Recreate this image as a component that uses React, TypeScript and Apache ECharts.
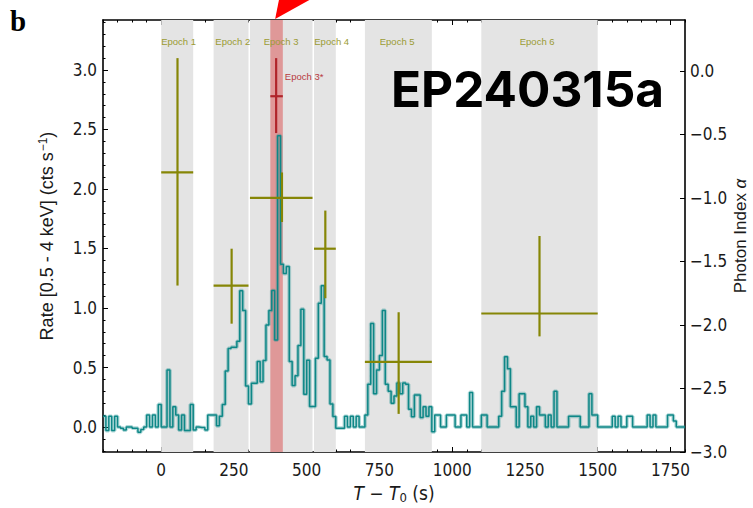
import React, { useEffect, useRef } from 'react';
import * as echarts from 'echarts';

// Light curve: 10 s bins starting at T0 - 200 s, rate in cts/s (0.5 - 4 keV)
const binStart = -200;
const binWidth = 10;
const rates = [
  0.09, -0.03, 0.09, -0.03, 0.09, 0.0, -0.01, -0.025, 0.0, 0.0,
  -0.01, -0.01, -0.045, -0.02, 0.0, 0.10, 0.0, 0.10, 0.0, 0.19,
  0.0, 0.0, 0.48, 0.0, 0.17, 0.10, -0.025, 0.10, -0.03, -0.03,
  0.19, -0.025, 0.0, -0.005, -0.005, -0.025, 0.10, 0.10, 0.10, 0.01,
  0.09, 0.19, 0.47, 0.66, 0.67, 0.67, 0.72, 1.145, 0.98, 0.345,
  0.194, 0.368, 0.368, 0.55, 0.38, 0.558, 0.858, 0.978, 1.146, 0.732,
  2.448, 1.368, 1.29, 1.348, 0.55, 0.348, 0.43, 0.684, 0.99, 0.276,
  0.56, 0.172, 0.172, 0.578, 1.04, 1.186, 0.592, 0.564, 0.194, 0.088,
  -0.01, -0.01, -0.01, 0.09, 0.0, 0.09, 0.0, 0.09, 0.0, 0.0,
  0.10, 0.36, 0.87, 0.28, 0.48, 0.60, 0.98, 0.36, 0.30, 0.20,
  0.26, 0.37, 0.28, 0.37, 0.36, 0.15, 0.087, 0.27, 0.27, 0.08,
  0.17, 0.09, 0.17, -0.04, 0.10, 0.10, 0.0, 0.0, 0.10, 0.10,
  0.10, 0.0, 0.0, 0.10, 0.10, 0.0, 0.29, 0.0, 0.0, 0.0,
  0.10, 0.10, 0.0, 0.0, 0.0, 0.0, 0.09, 0.30, 0.59, 0.49,
  0.17, 0.17, 0.0, 0.28, 0.28, 0.17, 0.0, 0.09, 0.0, 0.17,
  0.10, 0.10, 0.0, 0.10, 0.0, 0.30, 0.0, 0.0, 0.0, 0.0,
  0.09, 0.09, 0.09, 0.09, 0.0, 0.0, 0.0, 0.28, 0.10, 0.10,
  0.0, 0.0, 0.0, 0.0, 0.0, 0.09, 0.0, 0.09, 0.0, 0.0,
  0.09, 0.09, 0.0, 0.0, 0.0, 0.0, 0.0, 0.10, 0.0, 0.10,
  0.0, 0.0, 0.0, 0.0, 0.10, 0.10, 0.05, 0.0, 0.0, 0.0,
];

// Spectral epochs (s) and fitted photon index with its range
const epochNames = ['Epoch 1', 'Epoch 2', 'Epoch 3', 'Epoch 4', 'Epoch 5', 'Epoch 6'];
const epochStart = [0, 180, 305, 525, 700, 1100];
const epochEnd = [110, 300, 520, 600, 930, 1500];
const epochLabelAt = [60, 246, 412, 586, 811, 1292];
const indexTime = [56, 242, 415, 564, 816, 1300];
const indexValue = [-0.8, -1.69, -1.0, -1.4, -2.29, -1.91];
const indexLow = [-1.69, -1.99, -1.19, -1.79, -2.7, -2.09];
const indexHigh = [0.1, -1.4, -0.8, -1.1, -1.9, -1.3];

// Sub-interval of epoch 3
const subName = 'Epoch 3*';
const subStart = 375;
const subEnd = 418;
const subTime = 395;
const subValue = -0.2;
const subLow = -0.49;
const subHigh = 0.1;

// Axis ticks
const timeTicks = [0, 250, 500, 750, 1000, 1250, 1500, 1750];
const rateTicks = [0, 0.5, 1.0, 1.5, 2.0, 2.5, 3.0];
const indexTicks = [-3.0, -2.5, -2.0, -1.5, -1.0, -0.5, 0.0];

const steps = (a: number, b: number, d: number) => {
  const out: number[] = [];
  for (let i = 0; a + i * d <= b + 1e-9; i++) out.push(Math.round((a + i * d) * 1000) / 1000);
  return out;
};
const timeMinor = steps(-200, 1800, 50);
const rateMinor = steps(-0.2, 3.4, 0.1);

const FONT = '"Liberation Sans", Arial, Helvetica, sans-serif';
const NARROW = '"Liberation Sans Narrow", "Arial Narrow", "DejaVu Sans Condensed", "Liberation Sans", sans-serif';
const TEXT = '#1a1a1a';

export default function App() {
  const ref = useRef<HTMLDivElement>(null);

  useEffect(() => {
    const el = ref.current;
    if (!el) return;
    const chart = echarts.init(el, null, { renderer: 'svg' });

    const lcData = rates.map((v, i) => [binStart + i * binWidth, v]);
    lcData.push([binStart + rates.length * binWidth, rates[rates.length - 1]]);

    const cross = (color: string, lw: number, label?: string, labelColor?: string) =>
      (params: any, api: any) => {
        const t = api.value(0);
        const s = api.value(1);
        const e = api.value(2);
        const c = api.value(3);
        const a = api.coord([s, c]);
        const b = api.coord([e, c]);
        const p = api.coord([t, api.value(4)]);
        const q = api.coord([t, api.value(5)]);
        const children: any[] = [
          { type: 'line', shape: { x1: a[0], y1: a[1], x2: b[0], y2: b[1] }, style: { stroke: color, lineWidth: lw } },
          { type: 'line', shape: { x1: p[0], y1: p[1], x2: q[0], y2: q[1] }, style: { stroke: color, lineWidth: lw } },
        ];
        if (label) {
          children.push({
            type: 'text',
            style: {
              text: label, x: b[0] + 2, y: q[1] + 18,
              fill: labelColor, fontSize: 9.5, fontFamily: FONT,
              align: 'left', verticalAlign: 'middle', textAlign: 'left', textVerticalAlign: 'middle',
            },
          });
        }
        return { type: 'group', children };
      };

    const baseX = {
      type: 'value', gridIndex: 0, min: -200, max: 1800,
      splitLine: { show: false },
    };
    const baseRate = {
      type: 'value', gridIndex: 0, min: -0.21, max: 3.42,
      splitLine: { show: false },
    };

    const option: any = {
      animation: false,
      textStyle: { fontFamily: FONT },
      grid: { left: 103, right: 68, top: 20, bottom: 56, containLabel: false, outerBoundsMode: 'none' },
      xAxis: [
        {
          ...baseX, position: 'bottom',
          axisLine: { show: true, onZero: false, lineStyle: { color: '#000', width: 1.6 } },
          axisTick: { show: true, inside: true, length: 5, customValues: timeTicks, lineStyle: { color: '#000', width: 1 } },
          axisLabel: {
            show: true, customValues: timeTicks, margin: 9, fontSize: 17, color: TEXT, fontFamily: NARROW,
            formatter: (v: number) => String(v),
          },
          name: '{i|T} − {i|T}{sub|0} (s)',
          nameLocation: 'middle', nameGap: 30, nameMoveOverlap: false,
          nameTextStyle: {
            fontSize: 19, color: TEXT, fontFamily: NARROW,
            rich: {
              i: { fontStyle: 'italic', fontSize: 19, color: TEXT, fontFamily: NARROW },
              sub: { fontSize: 13, color: TEXT, fontFamily: NARROW, verticalAlign: 'bottom', padding: [9, 0, 0, 0] },
            },
          },
        },
        {
          ...baseX, position: 'bottom',
          axisLine: { show: false, onZero: false },
          axisTick: { show: true, inside: true, length: 2.5, customValues: timeMinor, lineStyle: { color: '#000', width: 1 } },
          axisLabel: { show: false },
        },
        {
          ...baseX, position: 'top',
          axisLine: { show: true, onZero: false, lineStyle: { color: '#000', width: 1.6 } },
          axisTick: { show: true, inside: true, length: 5, customValues: timeTicks, lineStyle: { color: '#000', width: 1 } },
          axisLabel: { show: false },
        },
        {
          ...baseX, position: 'top',
          axisLine: { show: false, onZero: false },
          axisTick: { show: true, inside: true, length: 2.5, customValues: timeMinor, lineStyle: { color: '#000', width: 1 } },
          axisLabel: { show: false },
        },
      ],
      yAxis: [
        {
          ...baseRate, position: 'left',
          axisLine: { show: true, onZero: false, lineStyle: { color: '#000', width: 1.6 } },
          axisTick: { show: true, inside: true, length: 5, customValues: rateTicks, lineStyle: { color: '#000', width: 1 } },
          axisLabel: {
            show: true, customValues: rateTicks, margin: 6, fontSize: 17, color: TEXT, fontFamily: NARROW,
            formatter: (v: number) => v.toFixed(1),
          },
          name: '{r|Rate [0.5 - 4 keV] (cts s}{sup|−1}{r|)}',
          nameLocation: 'middle', nameGap: 46, nameRotate: 90, nameMoveOverlap: false,
          nameTextStyle: {
            fontSize: 18, color: TEXT, fontFamily: FONT,
            rich: {
              r: { fontSize: 18, color: TEXT, fontFamily: FONT },
              sup: { fontSize: 12, color: TEXT, fontFamily: FONT, verticalAlign: 'top', padding: [0, 0, 8, 1] },
            },
          },
        },
        {
          type: 'value', gridIndex: 0, position: 'right', min: -3, max: 0.4,
          splitLine: { show: false },
          axisLine: { show: true, onZero: false, lineStyle: { color: '#000', width: 1.6 } },
          axisTick: { show: true, inside: true, length: 5, customValues: indexTicks, lineStyle: { color: '#000', width: 1 } },
          axisLabel: {
            show: true, customValues: indexTicks, margin: 5, fontSize: 17, color: TEXT, fontFamily: NARROW,
            formatter: (v: number) => (v < 0 ? '−' : '') + Math.abs(v).toFixed(1),
          },
          name: '{r|Photon Index }{i|α}',
          nameLocation: 'middle', nameGap: 47, nameRotate: 90, nameMoveOverlap: false,
          nameTextStyle: {
            fontSize: 17, lineHeight: 17, color: TEXT, fontFamily: FONT,
            rich: {
              r: { fontSize: 17, lineHeight: 17, color: TEXT, fontFamily: FONT },
              i: { fontSize: 17, lineHeight: 17, color: TEXT, fontFamily: FONT, fontStyle: 'italic' },
            },
          },
        },
        {
          ...baseRate, position: 'left',
          axisLine: { show: false, onZero: false },
          axisTick: { show: true, inside: true, length: 2.5, customValues: rateMinor, lineStyle: { color: '#000', width: 1 } },
          axisLabel: { show: false },
        },
      ],
      series: [
        {
          name: 'epochs', type: 'line', xAxisIndex: 0, yAxisIndex: 0, data: [], silent: true, z: 1,
          markArea: {
            silent: true,
            itemStyle: { color: '#e4e4e4' },
            data: epochStart.map((s, i) => [{ xAxis: s }, { xAxis: epochEnd[i] }]),
          },
        },
        {
          name: 'sub', type: 'line', xAxisIndex: 0, yAxisIndex: 0, data: [], silent: true, z: 2,
          markArea: {
            silent: true,
            itemStyle: { color: '#df9898' },
            data: [[{ xAxis: subStart }, { xAxis: subEnd }]],
          },
        },
        {
          name: 'rate-halo', type: 'line', step: 'end', xAxisIndex: 0, yAxisIndex: 0, z: 3,
          data: lcData, showSymbol: false, silent: true,
          lineStyle: { color: 'rgba(20,140,140,0.33)', width: 3.8 },
        },
        {
          name: 'rate', type: 'line', step: 'end', xAxisIndex: 0, yAxisIndex: 0, z: 4,
          data: lcData, showSymbol: false, silent: true,
          lineStyle: { color: '#0e8787', width: 1.5 },
        },
        {
          name: 'index', type: 'custom', xAxisIndex: 0, yAxisIndex: 1, z: 6, silent: true,
          data: indexTime.map((t, i) => [t, epochStart[i], epochEnd[i], indexValue[i], indexLow[i], indexHigh[i]]),
          encode: { x: [0, 1, 2], y: [3, 4, 5] },
          renderItem: cross('#868606', 2.2),
        },
        {
          name: 'index-sub', type: 'custom', xAxisIndex: 0, yAxisIndex: 1, z: 7, silent: true,
          data: [[subTime, subStart, subEnd, subValue, subLow, subHigh]],
          encode: { x: [0, 1, 2], y: [3, 4, 5] },
          renderItem: cross('#b0242a', 2.2, subName, '#b83a3e'),
        },
        {
          name: 'epoch-labels', type: 'custom', xAxisIndex: 0, yAxisIndex: 0, z: 8, silent: true,
          data: epochLabelAt.map((t) => [t, 0]),
          encode: { x: 0, y: 1 },
          renderItem: (params: any, api: any) => {
            const x = api.coord([api.value(0), 0])[0];
            return {
              type: 'text',
              style: {
                text: epochNames[params.dataIndex], x, y: params.coordSys.y + 21,
                fill: '#9b9b33', fontSize: 9.5, fontFamily: FONT,
                align: 'center', verticalAlign: 'middle', textAlign: 'center', textVerticalAlign: 'middle',
              },
            };
          },
        },
      ],
      graphic: [
        {
          type: 'text', id: 'panel', left: 10, top: 6, z: 20,
          style: { text: 'b', fontSize: 29, fontWeight: 'bold', fontFamily: '"Liberation Serif", "Times New Roman", serif', fill: '#000' },
        },
        {
          type: 'text', id: 'source', x: 391, y: 88.5, z: 20,
          style: {
            text: 'EP240315a', fontSize: 49.5, fontWeight: 'bold', fontFamily: 'Inter, "Open Sans", sans-serif', fill: '#000',
            align: 'left', verticalAlign: 'middle', textAlign: 'left', textVerticalAlign: 'middle',
          },
        },
      ],
    };

    chart.setOption(option);

    // Red arrow pointing at the Epoch 3* interval from above the frame
    const tip = chart.convertToPixel({ xAxisIndex: 0 }, subTime) as number;
    chart.setOption({
      graphic: [
        {
          type: 'polygon', id: 'arrow', z: 30,
          shape: { points: [[tip - 1, 19], [tip + 3, -1], [tip + 35, -1]] },
          style: { fill: '#ff0000' },
        },
      ],
    });

    return () => chart.dispose();
  }, []);

  return <div ref={ref} style={{ position: 'absolute', left: 0, top: 0, width: 753, height: 508 }} />;
}
